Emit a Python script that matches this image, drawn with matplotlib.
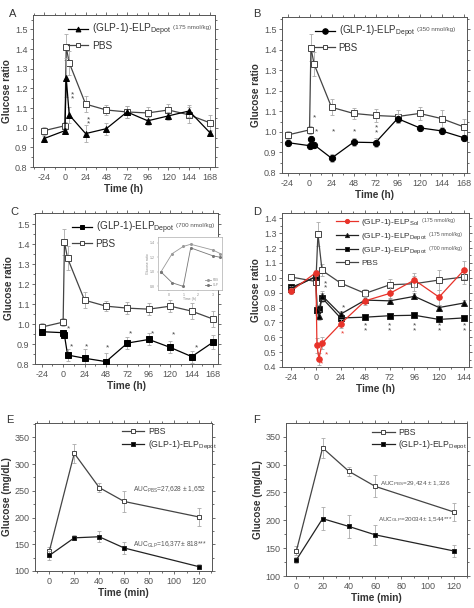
import numpy as np
import matplotlib
matplotlib.use("Agg")
import matplotlib.pyplot as plt
from matplotlib.lines import Line2D
from matplotlib.ticker import AutoMinorLocator

plt.rcParams['font.family'] = ['Liberation Sans', 'DejaVu Sans']
plt.rcParams['mathtext.fontset'] = 'custom'
plt.rcParams['mathtext.rm'] = 'Liberation Sans'
plt.rcParams['mathtext.it'] = 'Liberation Sans'

# ---- data ----
t_hours = [-24, 0, 1.5, 5, 24, 48, 72, 96, 120, 144, 168]

a_glp = [0.945, 0.985, 1.255, 1.065, 0.97, 0.995, 1.08, 1.035, 1.06, 1.085, 0.975]
a_glp_err = [0.015, 0.015, 0.1, 0.04, 0.045, 0.03, 0.03, 0.02, 0.02, 0.03, 0.015]
pbs = [0.985, 1.01, 1.41, 1.33, 1.12, 1.09, 1.08, 1.075, 1.09, 1.065, 1.025]
pbs_err = [0.02, 0.02, 0.065, 0.06, 0.04, 0.025, 0.03, 0.03, 0.03, 0.04, 0.04]
# (time, y, number of stacked asterisks)
a_stars = [(9, 1.157, 2), (27, 1.029, 2)]

b_glp = [0.948, 0.933, 0.965, 0.937, 0.872, 0.95, 0.948, 1.065, 1.02, 1.005, 0.972]
b_glp_err = [0.015, 0.015, 0.015, 0.015, 0.02, 0.02, 0.02, 0.02, 0.015, 0.015, 0.015]
b_stars = [(5, 1.07, 1), (8, 1.0, 1), (26, 0.998, 1), (49, 1.0, 1), (73, 1.008, 2)]

c_glp = [0.962, 0.957, 0.944, 0.845, 0.829, 0.812, 0.905, 0.923, 0.883, 0.837, 0.91]
c_glp_err = [0.01, 0.01, 0.01, 0.03, 0.045, 0.045, 0.03, 0.03, 0.03, 0.03, 0.035]
c_stars = [(6, 0.977, 1), (9, 0.887, 1), (26, 0.887, 1), (50, 0.88, 1), (75, 0.95, 1),
           (100, 0.95, 1), (124, 0.947, 1), (149, 0.88, 1)]

inset_t = [-0.5, 0.25, 1.0, 1.5, 3.0, 3.5]
inset_pbs = [1.0, 1.25, 1.35, 1.38, 1.3, 1.25]
inset_glp = [1.0, 0.85, 0.8, 1.33, 1.22, 1.2]

d_t = [-24, 0, 1, 3, 6, 24, 48, 72, 96, 120, 144]
d_sol = [0.912, 1.035, 0.545, 0.455, 0.56, 0.69, 0.845, 0.895, 0.985, 0.87, 1.05]
d_sol_err = [0.02, 0.02, 0.05, 0.04, 0.04, 0.03, 0.03, 0.04, 0.05, 0.05, 0.06]
d_dep175 = [0.925, 1.01, 0.785, 0.745, 0.88, 0.755, 0.85, 0.845, 0.875, 0.8, 0.83]
d_dep175_err = [0.02, 0.02, 0.03, 0.03, 0.03, 0.02, 0.02, 0.02, 0.02, 0.02, 0.02]
d_dep700 = [0.935, 1.005, 0.78, 0.79, 0.865, 0.73, 0.735, 0.745, 0.748, 0.72, 0.73]
d_dep700_err = [0.02, 0.02, 0.03, 0.03, 0.03, 0.02, 0.02, 0.02, 0.02, 0.02, 0.02]
d_t_pbs = [-24, 0, 2, 6, 24, 48, 72, 96, 120, 144]
d_pbs = [1.005, 0.975, 1.295, 1.05, 0.965, 0.895, 0.953, 0.96, 0.985, 1.005]
d_pbs_err = [0.02, 0.02, 0.08, 0.04, 0.015, 0.03, 0.04, 0.05, 0.07, 0.05]
d_red_stars = [(3, 0.48, 1), (5, 0.42, 1), (10, 0.48, 1), (26, 0.62, 1)]
d_black_stars = [(9, 0.945, 2), (27, 0.80, 1)] + \
    [(x, 0.662, 2) for x in (48, 72, 96, 120, 145)]

t_min = [0, 20, 40, 60, 120]
e_pbs = [137, 320, 256, 230, 201]
e_pbs_err = [8, 18, 8, 20, 16]
e_glp = [129, 162, 164, 143, 108]
e_glp_err = [8, 5, 10, 12, 5]

f_pbs = [145, 330, 288, 261, 215]
f_pbs_err = [8, 18, 8, 20, 16]
f_glp = [129, 203, 189, 174, 145]
f_glp_err = [5, 20, 20, 18, 10]

# ---- styling ----
GRAY = '#444444'
ERR = '#aaaaaa'
RED = '#e8332a'
TICK = 6.5
LAB = 7.2


def style(ax, xlim, ylim, xticks, yticks, yfmt='{:.1f}'):
    ax.set_xlim(*xlim)
    ax.set_ylim(*ylim)
    ax.set_xticks(xticks)
    ax.set_xticklabels([str(x) for x in xticks])
    ax.set_yticks(yticks)
    ax.set_yticklabels([yfmt.format(y) for y in yticks])
    ax.xaxis.set_minor_locator(AutoMinorLocator(2))
    ax.yaxis.set_minor_locator(AutoMinorLocator(2))
    ax.tick_params(which='both', labelsize=TICK, colors='#555555', width=0.6,
                   top=True, right=True, direction='out', pad=1.5)
    ax.tick_params(which='major', length=2.5)
    ax.tick_params(which='minor', length=1.5)
    for s in ax.spines.values():
        s.set_color('#555555')
        s.set_linewidth(0.7)


def series(ax, x, y, err, marker, mfc, color, ms=4, z=3):
    ax.errorbar(x, y, yerr=err, fmt='none', ecolor=ERR, elinewidth=0.6,
                capsize=1.5, capthick=0.6, zorder=z - 1)
    ax.plot(x, y, color=color, lw=0.9, marker=marker, ms=ms, mfc=mfc,
            mec=color, mew=0.7, zorder=z)


def stars(ax, pts, color=GRAY):
    for x, y, n in pts:
        ax.text(x, y, '\n'.join(['*'] * n), fontsize=6, color=color,
                ha='center', va='center', linespacing=0.55)


def labels(ax, xl, yl):
    ax.set_xlabel(xl, fontsize=LAB, fontweight='bold', labelpad=2, color='#333333')
    ax.set_ylabel(yl, fontsize=LAB, fontweight='bold', labelpad=2, color='#333333')


def h(marker, mfc, color, ms=3.5):
    return Line2D([], [], color=color, lw=0.9, marker=marker, ms=ms, mfc=mfc, mec=color, mew=0.7)


def legend(ax, handles, texts, anchor, fs, hl, notes=None, note_fs=4.5, spacing=0.25):
    leg = ax.legend(handles, texts, loc='upper left', bbox_to_anchor=anchor,
                    frameon=False, fontsize=fs, handlelength=hl, handletextpad=0.4,
                    labelspacing=spacing, borderaxespad=0, borderpad=0,
                    labelcolor='#333333')
    if notes:
        for txt, note in zip(leg.get_texts(), notes):
            if note:
                ax.annotate(note, xy=(1, 0.68), xycoords=txt, xytext=(1.5, 0),
                            textcoords='offset points', fontsize=note_fs,
                            color='#555555', ha='left', va='center', zorder=10)
    return leg


lab_glp = r'(GLP-1)-ELP$_{\mathrm{Depot}}$'

fig = plt.figure(figsize=(4.74, 6.08), dpi=100)

# Panel A
axA = fig.add_axes([0.0696, 0.7253, 0.384, 0.25])
series(axA, t_hours, pbs, pbs_err, 's', 'white', GRAY, z=3)
series(axA, t_hours, a_glp, a_glp_err, '^', 'black', 'black', z=4)
stars(axA, a_stars)
style(axA, (-37, 174), (0.8, 1.573), [-24, 0, 24, 48, 72, 96, 120, 144, 168],
      [0.8, 0.9, 1.0, 1.1, 1.2, 1.3, 1.4, 1.5])
labels(axA, 'Time (h)', 'Glucose ratio')
legend(axA, [h('^', 'black', 'black'), h('s', 'white', GRAY)], [lab_glp, 'PBS'],
       (0.19, 0.955), 7.3, 2.0, ['(175 nmol/kg)', None])

# Panel B
axB = fig.add_axes([0.595, 0.7155, 0.390, 0.2566])
series(axB, t_hours, pbs, pbs_err, 's', 'white', GRAY, z=3)
series(axB, t_hours, b_glp, b_glp_err, 'o', 'black', 'black', ms=4.5, z=4)
stars(axB, b_stars)
style(axB, (-30, 171.6), (0.8, 1.56), [-24, 0, 24, 48, 72, 96, 120, 144, 168],
      [0.8, 0.9, 1.0, 1.1, 1.2, 1.3, 1.4, 1.5])
labels(axB, 'Time (h)', 'Glucose ratio')
legend(axB, [h('o', 'black', 'black', 4), h('s', 'white', GRAY)], [lab_glp, 'PBS'],
       (0.18, 0.955), 7.0, 2.0, ['(350 nmol/kg)', None])

# Panel C
axC = fig.add_axes([0.0738, 0.4013, 0.386, 0.2484])
series(axC, t_hours, pbs, pbs_err, 's', 'white', GRAY, ms=4.5, z=3)
series(axC, t_hours, c_glp, c_glp_err, 's', 'black', 'black', ms=4.5, z=4)
stars(axC, c_stars)
style(axC, (-31.5, 173.3), (0.8, 1.557), [-24, 0, 24, 48, 72, 96, 120, 144, 168],
      [0.8, 0.9, 1.0, 1.1, 1.2, 1.3, 1.4, 1.5])
labels(axC, 'Time (h)', 'Glucose ratio')
legend(axC, [h('s', 'black', 'black'), h('s', 'white', GRAY)], [lab_glp, 'PBS'],
       (0.2, 0.955), 7.2, 2.0, ['(700 nmol/kg)', None])

# inset in C
axI = fig.add_axes([0.3333, 0.523, 0.135, 0.0872])
axI.plot(inset_t, inset_pbs, color='#999999', lw=0.6, marker='o', ms=1.2)
axI.plot(inset_t, inset_glp, color='#777777', lw=0.6, marker='o', ms=1.2)
axI.set_xlim(-0.7, 3.6)
axI.set_ylim(0.75, 1.48)
axI.set_xticks([0, 1, 2, 3])
axI.set_yticks([0.8, 1.0, 1.2, 1.4])
axI.tick_params(labelsize=2.5, length=1, width=0.3, colors='#888888', pad=1)
axI.set_xlabel('Time (h)', fontsize=2.5, labelpad=0.5, color='#888888')
axI.set_ylabel('Glucose ratio', fontsize=2.5, labelpad=0.5, color='#888888')
axI.legend(['PBS', 'GLP'], fontsize=2.2, frameon=False, loc='lower right',
           handlelength=2, labelcolor='#888888')
for s in axI.spines.values():
    s.set_linewidth(0.4)
    s.set_color('#999999')

# Panel D
axD = fig.add_axes([0.595, 0.3964, 0.3945, 0.2533])
series(axD, d_t_pbs, d_pbs, d_pbs_err, 's', 'white', GRAY, ms=4.5, z=3)
series(axD, d_t, d_dep700, d_dep700_err, 's', 'black', '#222222', z=4)
series(axD, d_t, d_dep175, d_dep175_err, '^', 'black', '#222222', z=5)
series(axD, d_t, d_sol, d_sol_err, 'o', RED, RED, z=6)
stars(axD, d_red_stars, RED)
stars(axD, d_black_stars)
style(axD, (-33, 149.2), (0.4, 1.436), [-24, 0, 24, 48, 72, 96, 120, 144],
      [0.4, 0.5, 0.6, 0.7, 0.8, 0.9, 1.0, 1.1, 1.2, 1.3, 1.4])
labels(axD, 'Time (h)', 'Glucose ratio')
legend(axD, [h('o', RED, RED, 3), h('^', 'black', '#222222', 3), h('s', 'black', '#222222', 3),
             h('s', 'white', GRAY, 3)],
       [r'(GLP-1)-ELP$_{\mathrm{Sol}}$', lab_glp, lab_glp, 'PBS'],
       (0.29, 0.975), 6.0, 2.6,
       ['(175 nmol/kg)', '(175 nmol/kg)', '(700 nmol/kg)', None], note_fs=3.8, spacing=0.4)

# Panel E
axE = fig.add_axes([0.0738, 0.0609, 0.3734, 0.2434])
series(axE, t_min, e_pbs, e_pbs_err, 's', 'white', GRAY, ms=3.5, z=3)
series(axE, t_min, e_glp, e_glp_err, 's', 'black', '#222222', ms=3.5, z=4)
style(axE, (-11.5, 130.4), (100, 376.8), [0, 20, 40, 60, 80, 100, 120],
      [100, 150, 200, 250, 300, 350], yfmt='{:d}')
labels(axE, 'Time (min)', 'Glucose (mg/dL)')
axE.text(67, 251, r'AUC$_{\mathrm{PBS}}$=27,628 ± 1,652', fontsize=4.8, color='#555555', va='center')
axE.text(67, 149, r'AUC$_{\mathrm{GLP}}$=16,377± 818***', fontsize=4.8, color='#555555', va='center')
legend(axE, [h('s', 'white', GRAY, 3), h('s', 'black', '#222222', 3)], ['PBS', lab_glp],
       (0.49, 0.97), 6.3, 2.6)

# Panel F
axF = fig.add_axes([0.6034, 0.0526, 0.3819, 0.2516])
series(axF, t_min, f_pbs, f_pbs_err, 's', 'white', GRAY, ms=3.5, z=3)
series(axF, t_min, f_glp, f_glp_err, 's', 'black', '#222222', ms=3.5, z=4)
style(axF, (-7.9, 130.1), (100, 374.6), [0, 20, 40, 60, 80, 100, 120],
      [100, 150, 200, 250, 300, 350], yfmt='{:d}')
labels(axF, 'Time (min)', 'Glucose (mg/dL)')
axF.text(64, 266, r'AUC$_{\mathrm{PBS}}$=29,424 ± 1,326', fontsize=4.6, color='#555555', va='center')
axF.text(62, 202, r'AUC$_{\mathrm{GLP}}$=20034± 1,544***', fontsize=4.6, color='#555555', va='center')
legend(axF, [h('s', 'white', GRAY, 3), h('s', 'black', '#222222', 3)], ['PBS', lab_glp],
       (0.475, 0.97), 6.3, 2.6)

# panel letters
for letter, x, y in [('A', 0.018, 0.985), ('B', 0.535, 0.985), ('C', 0.022, 0.66),
                     ('D', 0.535, 0.66), ('E', 0.012, 0.318), ('F', 0.535, 0.318)]:
    fig.text(x, y, letter, fontsize=8, color='#333333', va='top')

fig.canvas.draw()
fig.savefig('out.png', dpi=100)
